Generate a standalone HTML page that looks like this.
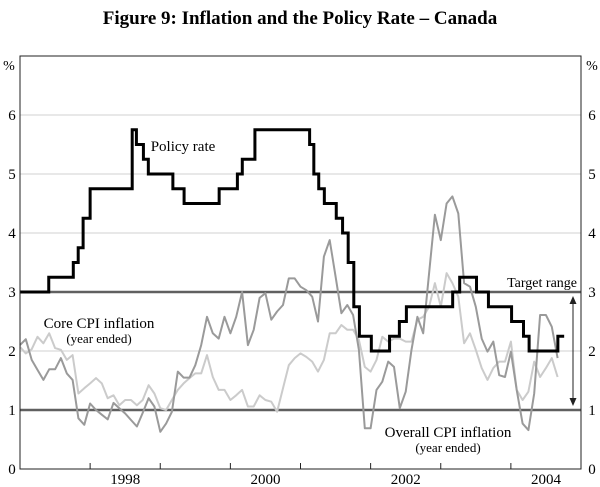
<!DOCTYPE html>
<html><head><meta charset="utf-8"><style>
body{margin:0;background:#fff;}
svg{display:block;font-family:"Liberation Serif",serif;}
</style></head><body>
<svg id="chart" width="600" height="487" viewBox="0 0 600 487">
<text x="300" y="24" text-anchor="middle" font-size="19" font-weight="bold">Figure 9: Inflation and the Policy Rate – Canada</text>
<g id="grid"></g>
<g id="series"></g>
<g id="axes"></g>
<text x="183" y="151" text-anchor="middle" font-size="15">Policy rate</text>
<text x="99" y="328" text-anchor="middle" font-size="15">Core CPI inflation</text>
<text x="99" y="343" text-anchor="middle" font-size="13">(year ended)</text>
<text x="577" y="287" text-anchor="end" font-size="14">Target range</text>
<text x="448" y="437" text-anchor="middle" font-size="15">Overall CPI inflation</text>
<text x="448" y="452" text-anchor="middle" font-size="13">(year ended)</text>
<g>
<line x1="573" y1="300" x2="573" y2="402" stroke="#222" stroke-width="1"/>
<path d="M573,296 L569.5,304 L576.5,304 Z" fill="#222"/>
<path d="M573,406 L569.5,398 L576.5,398 Z" fill="#222"/>
</g>
</svg>
<script>
const yTicks=[0,1,2,3,4,5,6];
const xYears=[1998,2000,2002,2004];
const targetBand=[1,3];
const policyTimes=[1997.0,1997.41,1997.76,1997.83,1997.9,1998.0,1998.6,1998.66,1998.76,1998.83,1999.18,1999.34,1999.84,2000.1,2000.17,2000.35,2001.13,2001.19,2001.26,2001.34,2001.51,2001.6,2001.68,2001.76,2001.84,2002.01,2002.27,2002.41,2002.51,2003.17,2003.27,2003.51,2003.68,2004.01,2004.18,2004.26,2004.67,2004.76];
const policyValues=[3.0,3.25,3.5,3.75,4.25,4.75,5.75,5.5,5.25,5.0,4.75,4.5,4.75,5.0,5.25,5.75,5.5,5.0,4.75,4.5,4.25,4.0,3.5,2.75,2.25,2.0,2.25,2.5,2.75,3.0,3.25,3.0,2.75,2.5,2.25,2.0,2.25,2.25];
const cpiStart=1997.0;
const overallCPI=[2.1,2.2,1.85,1.68,1.51,1.69,1.69,1.88,1.62,1.51,0.86,0.75,1.11,1.0,0.92,0.84,1.12,1.03,0.94,0.83,0.72,0.95,1.2,1.06,0.63,0.77,0.97,1.65,1.55,1.55,1.76,2.1,2.58,2.3,2.21,2.58,2.3,2.58,3.0,2.1,2.36,2.9,2.98,2.53,2.67,2.78,3.23,3.23,
3.09,3.03,2.92,2.5,3.6,3.88,3.26,2.64,2.78,2.61,2.02,0.69,0.69,1.34,1.48,1.82,1.73,1.03,1.31,2.02,2.58,2.3,3.32,4.31,3.88,4.5,4.62,4.33,3.15,3.09,2.75,2.21,1.99,2.16,1.59,1.56,1.99,1.34,0.77,0.66,1.28,2.61,2.61,2.41,1.88];
const coreCPI=[2.07,1.96,2.03,2.24,2.13,2.3,2.05,2.02,1.85,1.93,1.28,1.37,1.45,1.54,1.45,1.2,1.25,1.08,1.17,1.17,1.08,1.17,1.42,1.28,1.03,1.0,1.17,1.34,1.45,1.54,1.62,1.62,1.93,1.56,1.34,1.34,1.17,1.25,1.34,1.06,1.06,1.25,1.17,1.14,0.97,1.37,1.76,1.88,
1.96,1.9,1.82,1.65,1.85,2.3,2.3,2.44,2.36,2.36,2.19,1.73,1.65,1.85,2.24,2.16,2.21,2.21,2.16,2.16,2.53,2.58,2.75,3.15,2.75,3.32,3.15,2.92,2.13,2.3,2.02,1.71,1.51,1.71,1.82,1.82,2.16,1.34,1.17,1.31,1.82,1.56,1.71,1.88,1.56];

const L=20,R=581,T=56,B=469,t0=1997,t1=2005,vmax=7;
const X=t=>L+(t-t0)/(t1-t0)*(R-L);
const Y=v=>B-v/vmax*(B-T);
const NS='http://www.w3.org/2000/svg';
function mk(tag,attrs,parent){const e=document.createElementNS(NS,tag);for(const k in attrs)e.setAttribute(k,attrs[k]);parent.appendChild(e);return e;}
const grid=document.getElementById('grid'),series=document.getElementById('series'),axes=document.getElementById('axes');
yTicks.forEach(v=>{
  if(v===0||targetBand.includes(v))return;
  const g=mk('line',{x1:L,x2:R,y1:Y(v),y2:Y(v),stroke:'#d0d0d0','stroke-width':1},grid);
  
  
});
targetBand.forEach(v=>{
  const g=mk('line',{x1:L,x2:R,y1:Y(v),y2:Y(v),stroke:'#606060','stroke-width':2.5},grid);
  
  
});
function monthly(arr){return arr.map((v,i)=>X(cpiStart+i/12).toFixed(1)+','+Y(v).toFixed(1)).join(' ');}
const core=mk('polyline',{points:monthly(coreCPI),fill:'none',stroke:'#cbcbcb','stroke-width':2,'stroke-linejoin':'round'},series);


const overall=mk('polyline',{points:monthly(overallCPI),fill:'none',stroke:'#9a9a9a','stroke-width':2,'stroke-linejoin':'round'},series);


let d='';
policyTimes.forEach((t,i)=>{
  const x=X(t),y=Y(policyValues[i]);
  if(i===0)d+='M'+x+','+y;
  else d+=' H'+x+' V'+y;
});
const pol=mk('path',{d:d,fill:'none',stroke:'#000','stroke-width':3,'stroke-linejoin':'miter'},series);


const frame=mk('rect',{x:L,y:T,width:R-L,height:B-T,fill:'none',stroke:'#222','stroke-width':1},axes);


yTicks.forEach(v=>{
  const a=mk('text',{x:12,y:Y(v)+5,'text-anchor':'middle','font-size':15},axes);
  a.textContent=v;
  
  
  const b=mk('text',{x:592,y:Y(v)+5,'text-anchor':'middle','font-size':15},axes);
  b.textContent=v;
  
  
});
['left','right'].forEach((s,i)=>{
  const p=mk('text',{x:i?592:9,y:Y(vmax)+14,'text-anchor':'middle','font-size':14},axes);
  p.textContent='%';
  
  
});
for(let yr=t0+1;yr<t1;yr++){
  const tk=mk('line',{x1:X(yr),x2:X(yr),y1:B,y2:B-6,stroke:'#222','stroke-width':1},axes);
  
  
}
xYears.forEach(yr=>{
  const t=mk('text',{x:X(yr+0.5),y:484,'text-anchor':'middle','font-size':15},axes);
  t.textContent=yr;
  
  
});
</script>
</body></html>
